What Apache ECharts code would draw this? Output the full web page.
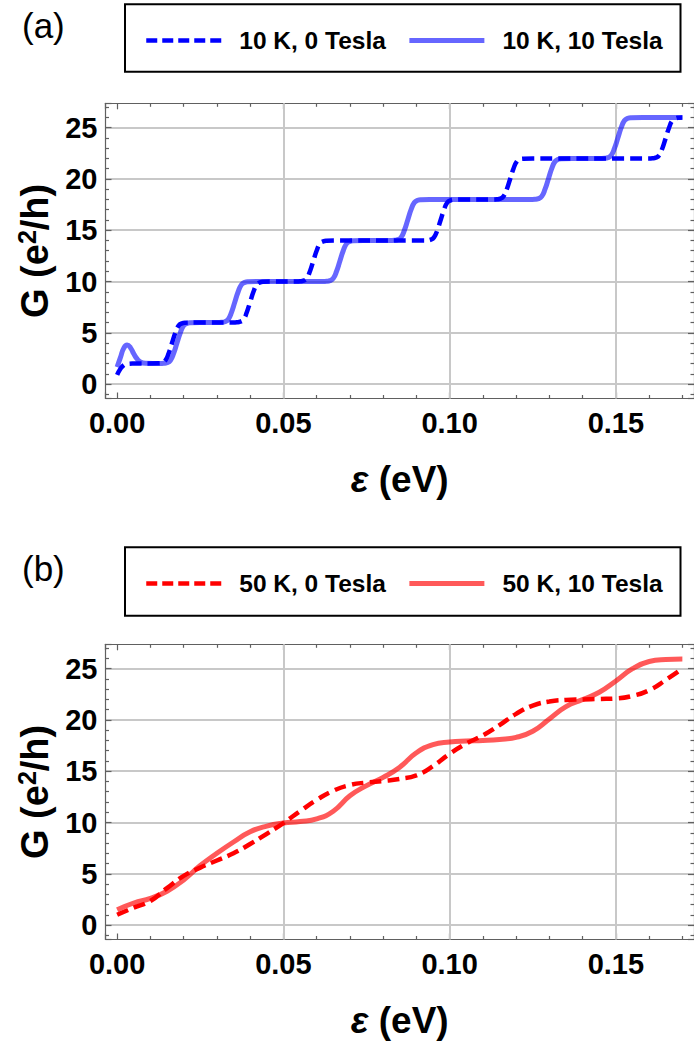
<!DOCTYPE html>
<html><head><meta charset="utf-8">
<script src="https://cdn.jsdelivr.net/npm/echarts@6/dist/echarts.min.js"></script>
<style>html,body{margin:0;padding:0;background:#fff}#c{width:694px;height:1042px}</style>
</head><body><div id="c"></div>
<script>
// ---------------- data ----------------
const panelLabels = ['(a)', '(b)'];
const namesA = ['10 K, 0 Tesla', '10 K, 10 Tesla'];
const namesB = ['50 K, 0 Tesla', '50 K, 10 Tesla'];
const xRange = [-0.0035, 0.1735];
const yRange = [-1.41, 27.38];
const xTickStep = 0.05;
const yTickStep = 5;
const xGridLines = [0.05, 0.10, 0.15];
const xAxisTitle = '{eps|ε} (eV)';
const yAxisTitle = '{n|G (e}{s|2}{n|/h)}';

const g10K_0T = [
[0,0.9],[0.001,1.5],[0.002,1.85],[0.003,1.97],[0.005,2.0],[0.0125,2.02],[0.0135,2.08],[0.0145,2.3],[0.0155,3.0],[0.0165,4.0],[0.0175,5.0],[0.0185,5.7],[0.0195,5.92],[0.0205,5.98],[0.0235,6.0],
[0.035,6.0],[0.036,6.02],[0.037,6.08],[0.038,6.3],[0.039,7.0],[0.040,8.0],[0.041,9.0],[0.042,9.7],[0.043,9.92],[0.044,9.98],[0.047,10.0],
[0.054,10.0],[0.055,10.02],[0.056,10.08],[0.057,10.3],[0.058,11.0],[0.059,12.0],[0.060,13.0],[0.061,13.7],[0.062,13.92],[0.063,13.98],[0.066,14.0],
[0.092,14.0],[0.0933,14.02],[0.0943,14.08],[0.0953,14.3],[0.0963,15.0],[0.0973,16.0],[0.0983,17.0],[0.0993,17.7],[0.1003,17.92],[0.1013,17.98],[0.104,18.0],
[0.113,18.0],[0.1142,18.02],[0.1152,18.08],[0.1162,18.3],[0.1172,19.0],[0.1182,20.0],[0.1192,21.0],[0.1202,21.7],[0.1212,21.92],[0.1222,21.98],[0.125,22.0],
[0.160,22.0],[0.161,22.02],[0.162,22.08],[0.163,22.3],[0.164,23.0],[0.165,24.0],[0.166,25.0],[0.167,25.7],[0.168,25.92],[0.169,25.98],[0.170,26.0]
];
const g10K_10T = [
[0,1.65],[0.001,2.6],[0.002,3.5],[0.003,3.8],[0.004,3.55],[0.005,2.95],[0.006,2.45],[0.007,2.15],[0.0085,2.02],[0.013,2.0],
[0.014,2.02],[0.015,2.08],[0.016,2.3],[0.017,3.0],[0.018,4.0],[0.019,5.0],[0.020,5.7],[0.021,5.92],[0.022,5.98],[0.025,6.0],
[0.030,6.0],[0.0314,6.02],[0.0324,6.08],[0.0334,6.3],[0.0344,7.0],[0.0354,8.0],[0.0364,9.0],[0.0374,9.7],[0.0384,9.92],[0.0394,9.98],[0.042,10.0],
[0.062,10.0],[0.063,10.02],[0.064,10.08],[0.065,10.3],[0.066,11.0],[0.067,12.0],[0.068,13.0],[0.069,13.7],[0.070,13.92],[0.071,13.98],[0.074,14.0],
[0.082,14.0],[0.0834,14.02],[0.0844,14.08],[0.0854,14.3],[0.0864,15.0],[0.0874,16.0],[0.0884,17.0],[0.0894,17.7],[0.0904,17.92],[0.0914,17.98],[0.094,18.0],
[0.124,18.0],[0.1257,18.02],[0.1267,18.08],[0.1277,18.3],[0.1287,19.0],[0.1297,20.0],[0.1307,21.0],[0.1317,21.7],[0.1327,21.92],[0.1337,21.98],[0.137,22.0],
[0.145,22.0],[0.1466,22.02],[0.1476,22.08],[0.1486,22.3],[0.1496,23.0],[0.1506,24.0],[0.1516,25.0],[0.1526,25.7],[0.1536,25.92],[0.1546,25.98],[0.158,26.0],[0.170,26.0]
];
const g50K_0T = [
[0,1.0],[0.005,1.7],[0.01,2.35],[0.015,3.6],[0.02,4.8],[0.025,5.6],[0.03,6.3],[0.035,7.0],[0.04,7.9],[0.045,8.9],[0.05,9.95],[0.055,11.1],[0.06,12.2],[0.065,13.1],[0.07,13.65],[0.075,13.9],[0.08,14.05],[0.085,14.25],[0.09,14.6],[0.095,15.5],[0.10,16.7],[0.105,17.7],[0.11,18.5],[0.115,19.5],[0.12,20.6],[0.125,21.4],[0.13,21.8],[0.135,21.95],[0.14,22.0],[0.145,22.05],[0.15,22.1],[0.155,22.35],[0.16,22.9],[0.165,23.9],[0.17,25.0]
];
const g50K_10T = [
[0,1.5],[0.005,2.15],[0.01,2.6],[0.015,3.3],[0.02,4.4],[0.025,5.8],[0.03,7.0],[0.035,8.1],[0.04,9.1],[0.045,9.65],[0.05,9.95],[0.055,10.1],[0.06,10.35],[0.065,11.1],[0.07,12.6],[0.075,13.6],[0.08,14.4],[0.085,15.4],[0.09,16.8],[0.095,17.6],[0.10,17.85],[0.105,17.95],[0.11,18.0],[0.115,18.1],[0.12,18.3],[0.125,18.9],[0.13,20.1],[0.135,21.3],[0.14,22.0],[0.145,22.7],[0.15,23.8],[0.155,25.0],[0.16,25.7],[0.165,25.9],[0.17,25.95]
];

// ---------------- styles / layout ----------------
const FONT = 'Liberation Sans, Arial, sans-serif';
const frameColor = '#606060';
const gridColor = '#c8c8c8';
const panelTops = [103.3, 644.3];
const gridLeft = 105.5, gridW = 593.1, gridH = 295.2;
const legendTops = [0, 543];
const DASH = [12, 6];

function xAxisCfg(gi, pos) {
  const main = pos === 'bottom';
  return {
    type: 'value', gridIndex: gi, position: pos, min: xRange[0], max: xRange[1],
    splitNumber: 4, minInterval: xTickStep, maxInterval: xTickStep,
    axisLine: { show: true, onZero: false, lineStyle: { color: frameColor, width: 1.2 } },
    axisTick: { show: true, inside: true, length: 6, lineStyle: { color: frameColor, width: 1.2 } },
    minorTick: { show: true, splitNumber: 5, length: 3.5, lineStyle: { color: frameColor, width: 1.2 } },
    splitLine: { show: false },
    axisLabel: { show: main, showMinLabel: false, showMaxLabel: false, margin: 10,
      formatter: v => v.toFixed(2),
      fontFamily: FONT, fontWeight: 'bold', fontSize: 29, color: '#000' },
    name: main ? xAxisTitle : '', nameLocation: 'middle', nameGap: 62,
    nameTextStyle: { fontFamily: FONT, fontWeight: 'bold', fontSize: 37, color: '#000',
      rich: { eps: { fontFamily: FONT, fontWeight: 'bold', fontStyle: 'italic', fontSize: 37, color: '#000' } } }
  };
}
function yAxisCfg(gi, pos) {
  const main = pos === 'left';
  return {
    type: 'value', gridIndex: gi, position: pos, min: yRange[0], max: yRange[1],
    splitNumber: 5, minInterval: yTickStep, maxInterval: yTickStep,
    axisLine: { show: true, onZero: false, lineStyle: { color: frameColor, width: 1.2 } },
    axisTick: { show: true, inside: true, length: 6, lineStyle: { color: frameColor, width: 1.2 } },
    minorTick: { show: true, splitNumber: 5, length: 3.5, lineStyle: { color: frameColor, width: 1.2 } },
    splitLine: { show: main, showMinLine: false, showMaxLine: false, lineStyle: { color: gridColor, width: 2 } },
    axisLabel: { show: main, showMinLabel: false, showMaxLabel: false, margin: 8,
      fontFamily: FONT, fontWeight: 'bold', fontSize: 29, color: '#000' },
    name: main ? yAxisTitle : '', nameLocation: 'middle', nameGap: 49, nameRotate: 90,
    nameTextStyle: { fontFamily: FONT, fontWeight: 'bold', fontSize: 38, color: '#000',
      rich: {
        n: { fontFamily: FONT, fontWeight: 'bold', fontSize: 38, color: '#000', lineHeight: 41 },
        s: { fontFamily: FONT, fontWeight: 'bold', fontSize: 25, color: '#000', verticalAlign: 'top', lineHeight: 25 }
      } }
  };
}
function gridLinesMark() {
  return { silent: true, z: 1, symbol: ['none', 'none'], label: { show: false },
    lineStyle: { color: gridColor, width: 2, type: 'solid' },
    emphasis: { disabled: true },
    data: xGridLines.map(v => ({ xAxis: v })) };
}
function lineSeries(name, data, gi, color, width, dashed, withGrid) {
  const s = {
    type: 'line', name: name, data: data, xAxisIndex: gi * 2, yAxisIndex: gi * 2,
    symbol: 'none', smooth: 0.5, z: 2, silent: true,
    lineStyle: { color: color, width: width, type: dashed ? DASH : 'solid', cap: 'butt' },
    itemStyle: { color: color },
    emphasis: { disabled: true }
  };
  if (withGrid) s.markLine = gridLinesMark();
  return s;
}
function legendCfg(names, top) {
  return {
    data: [
      { name: names[0], itemStyle: { opacity: 0 }, lineStyle: { width: 4.5, type: [11, 5] } },
      { name: names[1], itemStyle: { opacity: 0 }, lineStyle: { width: 5, type: 'solid' } }
    ],
    left: 144, top: top + 26, orient: 'horizontal', padding: 0,
    itemWidth: 75, itemHeight: 29, itemGap: 21, selectedMode: false,
    itemStyle: { opacity: 0 },
    textStyle: { fontFamily: FONT, fontWeight: 'bold', fontSize: 24.5, color: '#000',
      lineHeight: 29, padding: [0, 0, 0, 13] }
  };
}

const chart = echarts.init(document.getElementById('c'), null, { renderer: 'svg' });
chart.setOption({
  animation: false,
  backgroundColor: '#fff',
  grid: panelTops.map(t => ({ left: gridLeft, top: t, width: gridW, height: gridH, containLabel: false })),
  xAxis: [xAxisCfg(0, 'bottom'), xAxisCfg(0, 'top'), xAxisCfg(1, 'bottom'), xAxisCfg(1, 'top')],
  yAxis: [yAxisCfg(0, 'left'), yAxisCfg(0, 'right'), yAxisCfg(1, 'left'), yAxisCfg(1, 'right')],
  legend: [legendCfg(namesA, legendTops[0]), legendCfg(namesB, legendTops[1])],
  series: [
    lineSeries(namesA[0], g10K_0T, 0, '#0000ff', 4.5, true, true),
    lineSeries(namesA[1], g10K_10T, 0, 'rgba(0,0,255,0.6)', 5, false, false),
    lineSeries(namesB[0], g50K_0T, 1, '#ff0000', 4.5, true, true),
    lineSeries(namesB[1], g50K_10T, 1, 'rgba(255,0,0,0.65)', 5, false, false)
  ],
  graphic: [
    { type: 'rect', silent: true, shape: { x: 125, y: 4.3, width: 555.5, height: 67.5 },
      style: { fill: 'none', stroke: '#000', lineWidth: 2 } },
    { type: 'rect', silent: true, shape: { x: 125, y: 4.3 + legendTops[1], width: 555.5, height: 68.5 },
      style: { fill: 'none', stroke: '#000', lineWidth: 2 } },
    { type: 'text', silent: true, x: 22, y: 25, style: { text: panelLabels[0], font: '35px ' + FONT,
      fill: '#000', textAlign: 'left', textVerticalAlign: 'middle' } },
    { type: 'text', silent: true, x: 22, y: 568, style: { text: panelLabels[1], font: '35px ' + FONT,
      fill: '#000', textAlign: 'left', textVerticalAlign: 'middle' } }
  ]
});
</script></body></html>
